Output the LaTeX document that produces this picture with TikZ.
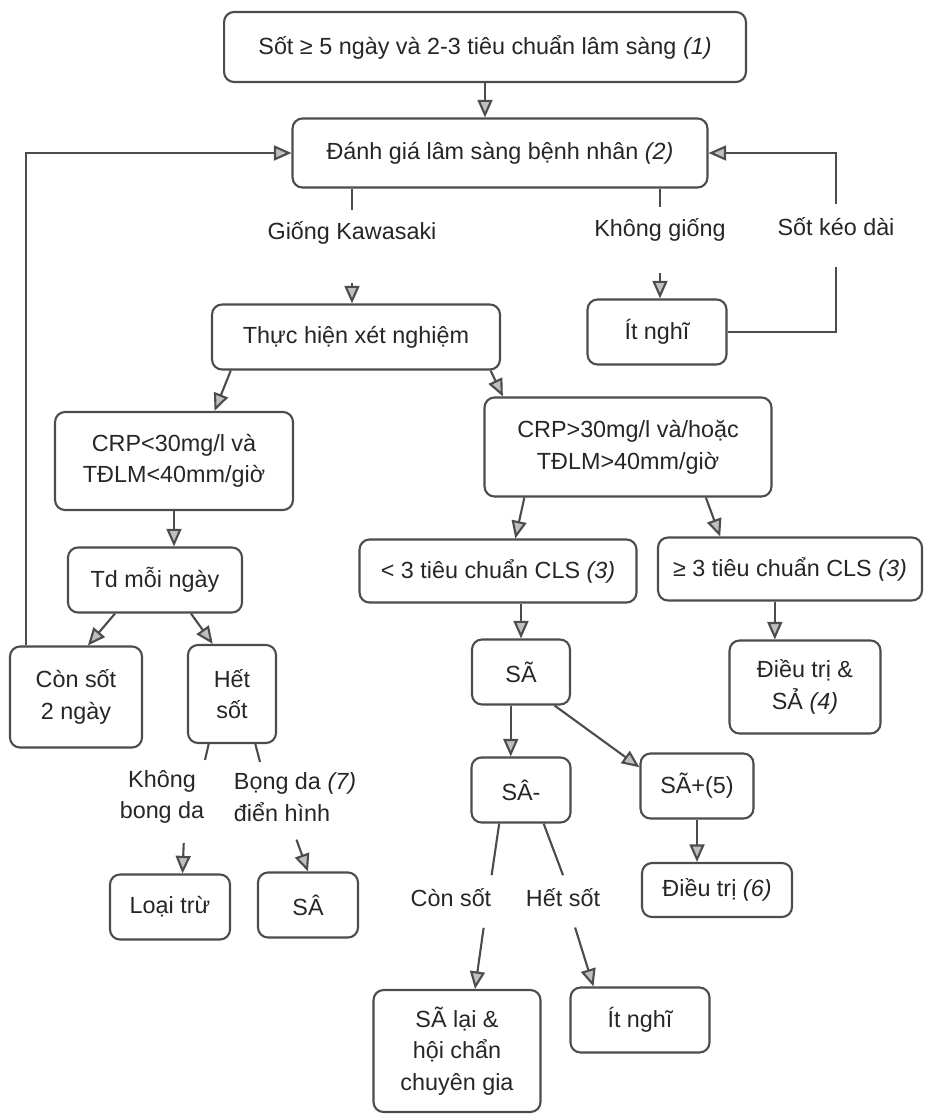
\documentclass[tikz,border=0pt]{standalone}
\usepackage{fontspec}
\setmainfont{Liberation Sans}
\usetikzlibrary{arrows.meta}

\begin{document}
\begin{tikzpicture}[x=0.02cm, y=-0.02cm,
		font=\fontsize{13.3}{18}\selectfont, text=black!85,
		box/.style={draw=black!70, line width=1.2pt, rounded corners=0.2cm, align=center},
		lbl/.style={inner sep=0pt, minimum height=0.9cm, align=center},
		conn/.style={draw=black!70, line width=1.2pt},
		arr/.style={conn, -{Triangle[length=10pt, width=8.5pt, fill=gray!50]}}]
		\useasboundingbox (0,0) rectangle (931,1115);

		% Entry and clinical assessment
		\node[box, minimum width=10.44cm, minimum height=1.4cm] (sot5) at (485,47) {Sốt ≥ 5 ngày và 2-3 tiêu chuẩn lâm sàng \textit{(1)}};
		\node[box, minimum width=8.3cm, minimum height=1.38cm] (danhgia) at (500,153) {Đánh giá lâm sàng bệnh nhân \textit{(2)}};
		\node[lbl] (giong) at (352,233) {Giống Kawasaki};
		\node[lbl] (khonggiong) at (660,230) {Không giống};
		\node[lbl] (keodai) at (836,227) {Sốt kéo dài};
		\node[box, minimum width=5.76cm, minimum height=1.3cm] (thuchien) at (356,337) {Thực hiện xét nghiệm};
		\node[box, minimum width=2.78cm, minimum height=1.3cm] (itnghi1) at (657,332) {Ít nghĩ};

		% Left branch: low inflammation
		\node[box, minimum width=4.76cm, minimum height=1.96cm] (crpless) at (174,461) {CRP<30mg/l và\\TĐLM<40mm/giờ};
		\node[box, minimum width=3.48cm, minimum height=1.3cm] (tdngay) at (155,580) {Td mỗi ngày};
		\node[box, minimum width=2.64cm, minimum height=2.02cm] (consot2) at (76,697) {Còn sốt\\2 ngày};
		\node[box, minimum width=1.76cm, minimum height=1.96cm] (hetsot) at (232,694) {Hết\\sốt};
		\node[lbl] (khongbong) at (162,797) {Không\\bong da};
		\node[lbl, align=left] (bongda) at (295,797) {Bọng da \textit{(7)}\\điển hình};
		\node[box, minimum width=2.4cm, minimum height=1.3cm] (loaitru) at (170,907) {Loại trừ};
		\node[box, minimum width=2.0cm, minimum height=1.3cm] (saB) at (308,905) {SÂ};
		\coordinate (khongstub) at (205,760);
		\coordinate (bongstub) at (260,762);

		% Right branch: high inflammation
		\node[box, minimum width=5.74cm, minimum height=1.98cm] (crpmore) at (628,447) {CRP>30mg/l và/hoặc\\TĐLM>40mm/giờ};
		\node[box, minimum width=5.54cm, minimum height=1.26cm] (lessthree) at (498,571) {< 3 tiêu chuẩn CLS \textit{(3)}};
		\node[box, minimum width=5.28cm, minimum height=1.26cm] (morethree) at (790,569) {≥ 3 tiêu chuẩn CLS \textit{(3)}};
		\node[box, minimum width=1.96cm, minimum height=1.3cm] (sa) at (521,672) {SÃ};
		\node[box, minimum width=3.02cm, minimum height=1.86cm] (dieutri4) at (805,687) {Điều trị \&\\SẢ \textit{(4)}};
		\node[box, minimum width=1.98cm, minimum height=1.3cm] (saminus) at (521,790) {SÂ-};
		\node[box, minimum width=2.26cm, minimum height=1.3cm] (saplus) at (697,786) {SÃ+(5)};
		\node[box, minimum width=3.0cm, minimum height=1.08cm] (dieutri6) at (717,890) {Điều trị \textit{(6)}};
		\node[lbl] (consotlbl) at (451,898) {Còn sốt};
		\node[lbl] (hetsotlbl) at (563,898) {Hết sốt};
		\node[box, minimum width=3.34cm, minimum height=2.44cm] (salai) at (457,1051) {SÃ lại \&\\hội chẩn\\chuyên gia};
		\node[box, minimum width=2.78cm, minimum height=1.3cm] (itnghi2) at (640,1020) {Ít nghĩ};

		% Connectors
		\draw[arr] (sot5.south) -- (sot5.south |- danhgia.north);
		\draw[conn] (danhgia.south -| giong.north) -- (giong.north);
		\draw[arr, shorten <=0.54cm] (giong.south) -- (giong.south |- thuchien.north);
		\draw[conn] (danhgia.south -| khonggiong.north) -- (khonggiong.north);
		\draw[arr, shorten <=0.4cm] (khonggiong.south) -- (khonggiong.south |- itnghi1.north);
		\draw[conn, shorten >=0.35cm] (itnghi1.east) -| (keodai.south);
		\draw[arr] (keodai.north) |- (danhgia.east);
		\draw[arr] (thuchien.-165) -- (crpless.51);
		\draw[arr] (thuchien.-14) -- (crpmore.158);
		\draw[arr] (crpless.south) -- (crpless.south |- tdngay.north);
		\draw[arr] (tdngay.-140) -- (consot2.77);
		\draw[arr] (tdngay.-43) -- (hetsot.111);
		\draw[arr] ([xshift=0.34cm]consot2.north west) |- (danhgia.west);
		\draw[conn] (hetsot.-115) -- (khongstub);
		\draw[conn] (hetsot.-65) -- (bongstub);
		\draw[arr, shorten <=0.38cm] ([xshift=0.45cm]khongbong.south) -- ([xshift=0.25cm]loaitru.north);
		\draw[arr, shorten <=0.38cm] ([xshift=-0.1cm]bongda.south) -- (saB.north);
		\draw[arr] (crpmore.-154) -- (lessthree.62);
		\draw[arr] (crpmore.-33) -- (morethree.155);
		\draw[arr] (sa.north |- lessthree.south) -- (sa.north);
		\draw[arr] (morethree.-115) -- (morethree.-115 |- dieutri4.north);
		\draw[arr] (sa.-107) -- (sa.-107 |- saminus.north);
		\draw[arr] (sa.-45) -- (saplus.162);
		\draw[arr] (saplus.south) -- (saplus.south |- dieutri6.north);
		\draw[conn] (saminus.-123) -- (consotlbl.north east);
		\draw[conn] (saminus.-56) -- (hetsotlbl.north);
		\draw[arr, shorten <=0.14cm] ([xshift=-0.14cm]consotlbl.south east) -- ([xshift=0.36cm]salai.north);
		\draw[arr, shorten <=0.14cm] ([xshift=0.2cm]hetsotlbl.south) -- ([xshift=0.48cm]itnghi2.north west);
	\end{tikzpicture}
\end{document}
